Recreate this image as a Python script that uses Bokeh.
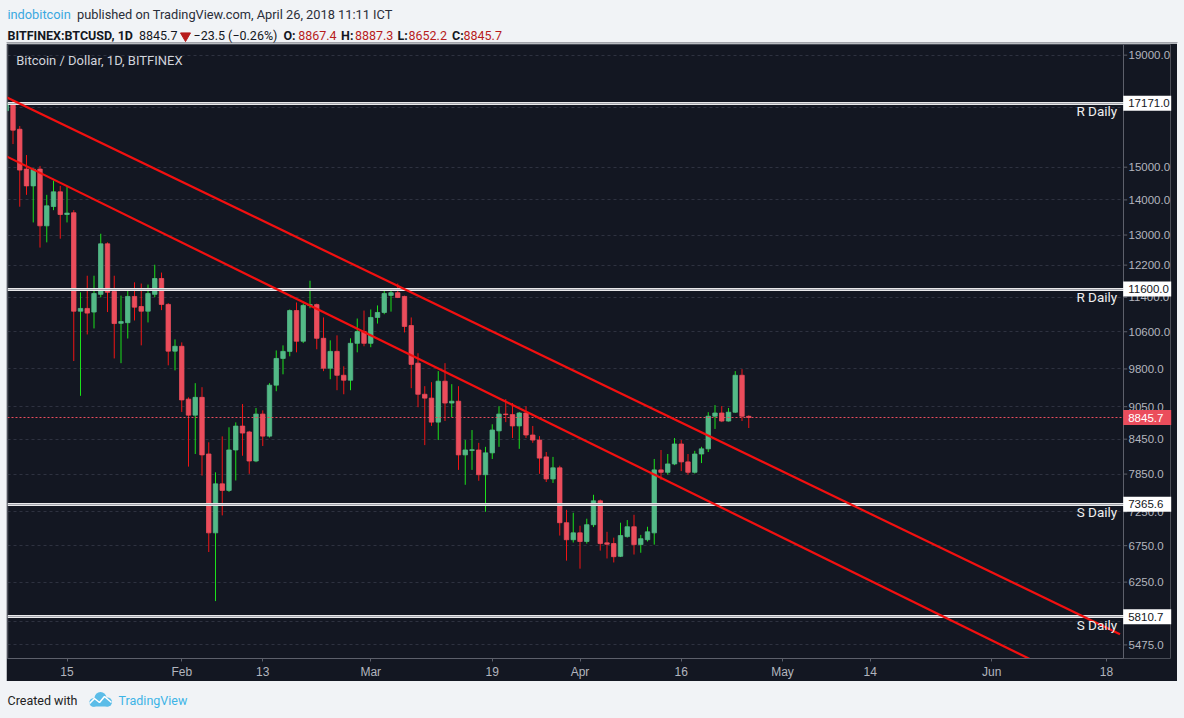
import pandas as pd
from bokeh.plotting import figure
from bokeh.models import Range1d, FixedTicker, PrintfTickFormatter, Label, Spacer
from bokeh.layouts import column, row
from bokeh.core.properties import value
from bokeh.embed import file_html
from bokeh.resources import INLINE

# ---------------- data ----------------
dates = pd.date_range("2018-01-06", "2018-04-26", freq="D")

opens = [16900, 17170, 16250, 14940, 14420, 14940, 13255, 13805, 14240, 13575,
         13625, 11070, 11135, 11050, 11470, 12760, 11540, 10790, 10805, 11420,
         11180, 11070, 11470, 11860, 11230, 10175, 10280, 9195, 8890, 9230,
         8190, 6935, 7690, 7585, 8260, 8687, 8580, 8070, 8910, 8505,
         9470, 10020, 10170, 11085, 10390, 11205, 11225, 10455, 9815, 10170,
         9670, 9570, 10345, 10605, 10345, 10925, 11040, 11445, 11510, 11420,
         10740, 9920, 9290, 9215, 8760, 9550, 9120, 9155, 8175, 8250,
         8260, 7840, 8210, 8600, 8910, 8900, 8690, 8930, 8525, 8435,
         8140, 7770, 7955, 7085, 6835, 6935, 6810, 7055, 7420, 6790,
         6780, 6600, 6880, 7025, 6765, 6835, 6935, 7920, 7880, 8020,
         8365, 8055, 7880, 8190, 8280, 8870, 8930, 8780, 8945, 9670,
         8867.4]
highs = [17250, 17250, 16360, 15390, 14960, 15040, 14150, 14580, 14420, 14400,
         13700, 11520, 11930, 11930, 13035, 12800, 11930, 11440, 11590, 11765,
         11735, 11710, 12210, 12010, 11260, 10430, 10365, 9230, 9510, 9430,
         8395, 7880, 8500, 8665, 8755, 9100, 8600, 9025, 8980, 9510,
         10190, 10300, 11110, 11275, 11250, 11805, 11250, 10925, 10410, 10520,
         9855, 10455, 10900, 11085, 11110, 11205, 11560, 11560, 11735, 11440,
         10925, 10130, 9450, 9530, 9755, 9920, 9490, 9450, 8435, 8615,
         8385, 8315, 8720, 9060, 9195, 9120, 8950, 9060, 8690, 8505,
         8225, 8140, 7990, 7280, 7235, 7040, 7145, 7515, 7440, 6950,
         6865, 7085, 7125, 7205, 6905, 7025, 8105, 8260, 8190, 8470,
         8435, 8190, 8245, 8315, 8945, 9080, 9060, 9025, 9755, 9795,
         8887.3]
lows = [16600, 15750, 13800, 14150, 13350, 12660, 12800, 13700, 12900, 13350,
        9965, 9260, 10540, 10675, 11400, 11050, 10020, 9920, 10450, 10855,
        10300, 10810, 11400, 11095, 9875, 9770, 8950, 7975, 8190, 7825,
        6660, 6005, 7195, 7560, 7745, 8160, 7855, 8050, 8330, 8480,
        9350, 9690, 10065, 10150, 10350, 11140, 10215, 9755, 9590, 9370,
        9290, 9370, 10150, 10280, 10260, 10785, 11000, 11060, 11380, 10585,
        9410, 9040, 8345, 8690, 8435, 8780, 8855, 7920, 7675, 7920,
        7740, 7250, 8105, 8315, 8760, 8470, 8280, 8470, 8385, 7855,
        7720, 7705, 6895, 6540, 6795, 6430, 6780, 7020, 6680, 6570,
        6515, 6590, 6865, 6625, 6650, 6810, 6765, 7755, 7840, 8000,
        7900, 7840, 7860, 8035, 8225, 8635, 8760, 8770, 8930, 8780,
        8652.2]
closes = [17170, 16220, 14910, 14420, 14935, 13255, 13825, 14240, 13575, 13615,
          11070, 11135, 11025, 11490, 12760, 11520, 10785, 10830, 11420, 11165,
          11070, 11490, 11860, 11230, 10175, 10280, 9180, 8890, 9230, 8175,
          6935, 7690, 7585, 8260, 8687, 8560, 8070, 8910, 8505, 9470,
          10020, 10170, 11085, 10390, 11205, 11225, 10455, 9815, 10170, 9670,
          9570, 10345, 10605, 10345, 10925, 11040, 11490, 11510, 11395, 10720,
          9895, 9290, 9215, 8760, 9550, 9120, 9155, 8175, 8260, 8265,
          7840, 8210, 8615, 8910, 8900, 8690, 8930, 8525, 8435, 8120,
          7770, 7955, 7085, 6835, 6935, 6810, 7055, 7420, 6780, 6770,
          6595, 6895, 7025, 6765, 6850, 6950, 7920, 7880, 8020, 8365,
          8055, 7880, 8190, 8280, 8870, 8930, 8780, 8945, 9670, 8869.2,
          8845.7]

levels = [17171.0, 11600.0, 7365.6, 5810.7]
level_names = ["R Daily", "R Daily", "S Daily", "S Daily"]

trend_upper_dates = ["2018-01-06", "2018-06-20"]
trend_upper_prices = [17390, 5600]
trend_lower_dates = ["2018-01-06", "2018-06-20"]
trend_lower_prices = [15350, 4840]

y_ticks = [5475, 6250, 6750, 7250, 7850, 8450, 9050, 9800, 10600, 11400,
           12200, 13000, 14000, 15000, 19000]
grid_ticks = [5475, 5750, 6250, 6750, 7250, 7850, 8450, 9050, 9800, 10600,
              11400, 12200, 13000, 14000, 15000, 17000, 19000]
x_tick_dates = ["2018-01-15", "2018-02-01", "2018-02-13", "2018-03-01",
                "2018-03-19", "2018-04-01", "2018-04-16", "2018-05-01",
                "2018-05-14", "2018-06-01", "2018-06-18"]
x_tick_labels = ["15", "Feb", "13", "Mar", "19", "Apr", "16", "May", "14",
                 "Jun", "18"]

# ---------------- style ----------------
PAGE_BG = "#f1f3f6"
PANEL = "#131722"
UP = "#53b987"
DOWN = "#eb4d5c"
UP_WICK = "#1be01b"
DOWN_WICK = "#f01414"
AXIS_TXT = "#b2b5be"
AXIS_LINE = "#5d606b"
FONT = "Roboto"
AX_FONT = "Liberation Sans"

EPOCH = pd.Timestamp("2018-01-01")


def day(s):
    return float((pd.Timestamp(s) - EPOCH).days)


xd = [float((t - EPOCH).days) for t in dates]
up = [c >= o for o, c in zip(opens, closes)]
body_top = [max(o, c) for o, c in zip(opens, closes)]
body_bot = [min(o, c) for o, c in zip(opens, closes)]
body_col = [UP if u else DOWN for u in up]
wick_col = [UP_WICK if u else DOWN_WICK for u in up]

PX_PER_DAY = 6.75
X0 = 5.185                      # left edge of the chart pane
XB = X0 + 1115.7 / PX_PER_DAY   # price-scale border
XE = X0 + 1163.0 / PX_PER_DAY   # right edge of the price scale column
Y0, Y1 = 5320.0, 19432.0

# ---------------- header ----------------
hdr = figure(width=1184, height=43, x_range=Range1d(0, 1184), y_range=Range1d(43, 0),
             toolbar_location=None, output_backend="svg", min_border=0,
             x_axis_location=None, y_axis_location=None, outline_line_color=None,
             background_fill_color=PAGE_BG, border_fill_color=PAGE_BG)
hdr.grid.visible = False

last_c = closes[-1]
chg = closes[-1] - closes[-2]
pct = chg / closes[-2] * 100


def fmt(v, d=1):
    return f"{v:.{d}f}".replace("-", "\u2212")


L1, L2 = 13.8, 34.8
hdr.text(x=[6.9], y=[L1], text=["indobitcoin"], text_color="#3aa8e0",
         text_font=value(FONT), text_font_size="12.8px", text_baseline="middle")
hdr.text(x=[76.5], y=[L1], text=["published on TradingView.com, April 26, 2018 11:11 ICT"],
         text_color="#2a2e39", text_font=value(FONT), text_font_size="12.8px",
         text_baseline="middle")
hdr.text(x=[7, 283, 340.6, 397, 451.6], y=[L2] * 5,
         text=["BITFINEX:BTCUSD, 1D", "O:", "H:", "L:", "C:"],
         text_color="#131722", text_font=value(FONT), text_font_size="12.5px",
         text_font_style="bold", text_baseline="middle")
hdr.text(x=[138.5, 193], y=[L2, L2],
         text=[f"{last_c:.1f}", f"{fmt(chg)} ({fmt(pct, 2)}%)"],
         text_color="#131722", text_font=value(FONT), text_font_size="12.5px",
         text_baseline="middle")
hdr.text(x=[297.7, 354.4, 408, 463], y=[L2] * 4,
         text=[f"{opens[-1]:.1f}", f"{highs[-1]:.1f}", f"{lows[-1]:.1f}", f"{closes[-1]:.1f}"],
         text_color="#b71c1c", text_font=value(FONT), text_font_size="12.5px",
         text_baseline="middle")
hdr.scatter(x=[185], y=[35.3], marker="inverted_triangle", size=10,
            fill_color="#b71c1c", line_color="#b71c1c")
# top border of the chart pane
hdr.segment(x0=[6], x1=[1177], y0=[42.5], y1=[42.5], line_color="#50535e", line_width=1)

# ---------------- main chart ----------------
p = figure(width=1171, height=638, x_range=Range1d(X0, XE), y_range=Range1d(Y0, Y1),
           y_axis_type="log", y_axis_location="right", toolbar_location=None,
           output_backend="svg", min_border_left=1, min_border_right=7,
           min_border_top=1, min_border_bottom=21,
           background_fill_color=PANEL, border_fill_color=PANEL,
           outline_line_color=None)

p.xgrid.visible = False
p.ygrid.ticker = FixedTicker(ticks=grid_ticks)
p.ygrid.grid_line_color = "#2e3240"
p.ygrid.grid_line_dash = "3 3"
p.ygrid.grid_line_width = 1
p.ygrid.cross_bounds = (X0, XB)

# price scale: labels pulled back into the price column
p.yaxis.ticker = FixedTicker(ticks=y_ticks)
p.yaxis.formatter = PrintfTickFormatter(format="%.1f")
p.yaxis.major_label_text_color = AXIS_TXT
p.yaxis.major_label_text_font = AX_FONT
p.yaxis.major_label_text_font_size = "11.5px"
p.yaxis.axis_line_color = None
p.yaxis.major_tick_line_color = None
p.yaxis.major_tick_in = 0
p.yaxis.major_tick_out = 0
p.yaxis.minor_tick_line_color = None
p.yaxis.major_label_standoff = -42

p.xaxis.ticker = FixedTicker(ticks=[day(s) for s in x_tick_dates])
p.xaxis.major_label_overrides = {day(s): lab for s, lab in zip(x_tick_dates, x_tick_labels)}
p.xaxis.major_label_text_color = AXIS_TXT
p.xaxis.major_label_text_font = AX_FONT
p.xaxis.major_label_text_font_size = "12px"
p.xaxis.axis_line_color = AXIS_LINE
p.xaxis.major_tick_line_color = AXIS_LINE
p.xaxis.major_tick_in = 0
p.xaxis.major_tick_out = 3
p.xaxis.minor_tick_line_color = None
p.xaxis.major_label_standoff = 3
p.xaxis.bounds = (X0, XB)

# pane left border, price-scale border and its tick marks
p.vspan(x=[X0], line_color="#50535e", line_width=1.5)
p.vspan(x=[XB], line_color=AXIS_LINE, line_width=1)
p.segment(x0=[XB] * len(y_ticks), x1=[XB + 4 / PX_PER_DAY] * len(y_ticks),
          y0=y_ticks, y1=y_ticks, line_color=AXIS_LINE, line_width=1)

# candles
p.segment(x0=xd, y0=lows, x1=xd, y1=highs, line_color=wick_col, line_width=1)
p.vbar(x=xd, top=body_top, bottom=body_bot, width=0.66, fill_color=body_col,
       line_color=body_col, line_width=0.8)

# last price dotted line
p.hspan(y=[closes[-1]], line_color=DOWN, line_width=1, line_dash="2 2")

# support / resistance lines
p.hspan(y=levels, line_color="#e8e8ea", line_width=3.2)
p.hspan(y=levels, line_color="#8f929b", line_width=0.8)

# trend lines
p.line(x=[day(s) for s in trend_upper_dates], y=trend_upper_prices,
       line_color="#f21010", line_width=2.2)
p.line(x=[day(s) for s in trend_lower_dates], y=trend_lower_prices,
       line_color="#f21010", line_width=2.2)

p.text(x=[XB] * len(levels), y=levels, text=level_names, x_offset=-6, y_offset=8,
       text_align="right", text_baseline="middle", text_color="#eeeeee",
       text_font=value(FONT), text_font_size="13.5px")

p.add_layout(Label(x=X0 + 8.7 / PX_PER_DAY, y=18774, text="Bitcoin / Dollar, 1D, BITFINEX",
                   text_color="#d1d4dc", text_font=FONT, text_font_size="13px",
                   text_baseline="middle"))

# price-scale value boxes
BOX_W = 48
box_cx = XB + (BOX_W / 2) / PX_PER_DAY
p.rect(x=[box_cx] * len(levels), y=levels, width=BOX_W, height=15,
       width_units="screen", height_units="screen", fill_color="#ffffff",
       line_color=None, level="overlay")
p.text(x=[XB] * len(levels), y=levels, text=[f"{lv:.1f}" for lv in levels], x_offset=5,
       text_align="left", text_baseline="middle", text_color="#131722",
       text_font=value(AX_FONT), text_font_size="11.5px", level="overlay")
p.rect(x=[box_cx], y=[closes[-1]], width=BOX_W, height=15, width_units="screen",
       height_units="screen", fill_color=DOWN, line_color=None, level="overlay")
p.text(x=[XB], y=[closes[-1]], text=[f"{closes[-1]:.1f}"], x_offset=5,
       text_align="left", text_baseline="middle", text_color="#ffffff",
       text_font=value(AX_FONT), text_font_size="11.5px", level="overlay")

# ---------------- footer ----------------
ftr = figure(width=1184, height=37, x_range=Range1d(0, 1184), y_range=Range1d(37, 0),
             toolbar_location=None, output_backend="svg", min_border=0,
             x_axis_location=None, y_axis_location=None, outline_line_color=None,
             background_fill_color=PAGE_BG, border_fill_color=PAGE_BG)
ftr.grid.visible = False
ftr.text(x=[7], y=[19.3], text=["Created with"], text_color="#222222",
         text_font=value(FONT), text_font_size="12.5px", text_baseline="middle")
ftr.text(x=[118], y=[19.3], text=["TradingView"], text_color="#3db4e6",
         text_font=value(FONT), text_font_size="12.5px", text_baseline="middle")
ftr.circle(x=[93, 100, 107], y=[21, 16.5, 20.5], radius=[4.2, 6, 4.6], fill_color="#5cbde8",
           line_color=None)
ftr.quad(left=[92], right=[108], top=[20], bottom=[25], fill_color="#5cbde8", line_color=None)
ftr.line(x=[89, 94, 99, 104, 111], y=[22, 17, 21, 15, 21], line_color="#ffffff", line_width=1.6)

sp_l = Spacer(width=6, height=638, styles={"background-color": PAGE_BG})
sp_r = Spacer(width=7, height=638, styles={"background-color": PAGE_BG})
layout = column(hdr, row(sp_l, p, sp_r, spacing=0), ftr, spacing=0,
                styles={"background-color": PAGE_BG})
open("out.html", "w").write(file_html(layout, INLINE))
